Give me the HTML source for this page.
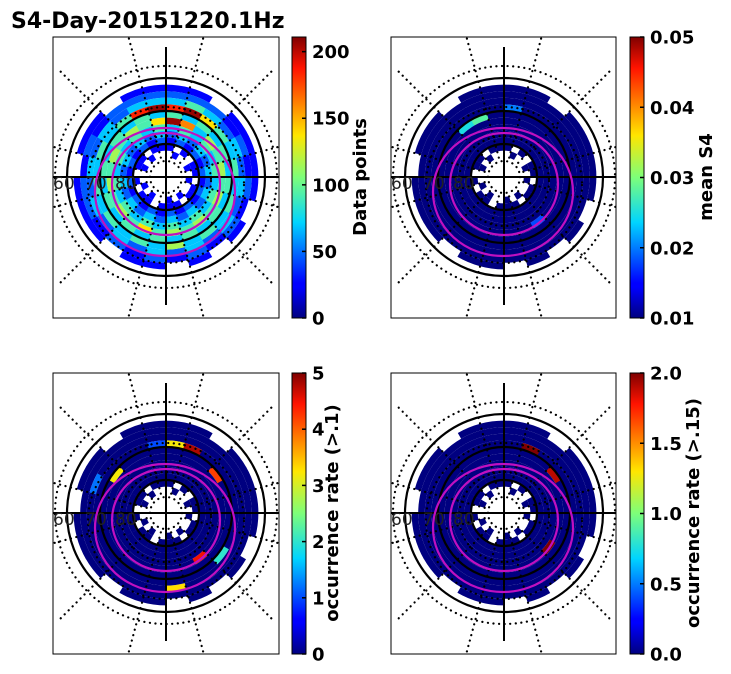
<!DOCTYPE html>
<html><head><meta charset="utf-8"><style>
body{margin:0;background:#fff}
svg{display:block;font-family:"DejaVu Sans","Liberation Sans",sans-serif}
</style></head><body>
<svg id="fig" width="731" height="674" viewBox="0 0 731 674" xmlns="http://www.w3.org/2000/svg">
<defs>
<linearGradient id="jet" x1="0" y1="1" x2="0" y2="0">
<stop offset="0" stop-color="#000080"/><stop offset="0.11" stop-color="#0000ff"/>
<stop offset="0.125" stop-color="#0000ff"/><stop offset="0.34" stop-color="#00d4ff"/>
<stop offset="0.5" stop-color="#7dff7a"/><stop offset="0.65" stop-color="#ffe600"/>
<stop offset="0.89" stop-color="#ff1300"/><stop offset="1" stop-color="#800000"/>
</linearGradient>
</defs>
<text x="11" y="28" font-size="22" font-weight="bold">S4-Day-20151220.1Hz</text>
</svg>
<script>
// Data: rings from lat 62 (outer) to 82 (inner), 2° each; 24 sectors of 15°, clockwise from top.
const ringLats = [62,64,66,68,70,72,74,76,78,80,82];
const countRows = [
"11.1111.1.1.11.111.11.11",
"222121212121212122121222",
"343232323232323232323233",
"896434343435343434343489",
"434343434343434343434343",
"973545454545464545454546",
"343434343434343434343434",
"232323232323232323232323",
"121212121212121212121212",
"1.1.11.11.111.11.1.11.11",
".1..1.1..1.1..1.1..1.1.."
];
const countScale = 23;
const s4Hits = [[4,21,0.025],[4,22,0.028],[3,0,0.02],[5,9,0.018]];
const occ1Hits = [[3,0,3.2],[3,1,4.8],[3,23,1],[4,20,3.2],[2,19,1.2],[4,3,4.2],[3,8,2],[2,11,3.3],[5,9,4.5]];
const occ2Hits = [[3,1,2],[5,8,2],[4,3,1.9]];
const ticks1 = [0,50,100,150,200];
const ticks2 = ["0.01","0.02","0.03","0.04","0.05"];
const ticks3 = [0,1,2,3,4,5];
const ticks4 = ["0.0","0.5","1.0","1.5","2.0"];

const NS="http://www.w3.org/2000/svg";
const svg=document.getElementById('fig');
function el(t,a,p){const e=document.createElementNS(NS,t);for(const k in a)e.setAttribute(k,a[k]);(p||svg).appendChild(e);return e;}
function jet(v){v=Math.max(0,Math.min(1,v));
 const st=[[0,0,0,128],[0.11,0,0,255],[0.125,0,0,255],[0.34,0,212,255],[0.5,125,255,122],[0.65,255,230,0],[0.89,255,19,0],[1,128,0,0]];
 for(let i=1;i<st.length;i++){if(v<=st[i][0]){const a=st[i-1],b=st[i],t=(v-a[0])/(b[0]-a[0]||1);
 return `rgb(${Math.round(a[1]+t*(b[1]-a[1]))},${Math.round(a[2]+t*(b[2]-a[2]))},${Math.round(a[3]+t*(b[3]-a[3]))})`;}}return 'rgb(128,0,0)';}
const rScale=lat=>(90-lat)*3.3;
function pt(cx,cy,r,a){const t=a*Math.PI/180;return [cx+r*Math.sin(t),cy-r*Math.cos(t)];}
function cellPath(cx,cy,r1,r2,a1,a2){const p1=pt(cx,cy,r2,a1),p2=pt(cx,cy,r2,a2),p3=pt(cx,cy,r1,a2),p4=pt(cx,cy,r1,a1);
 return `M${p1} A${r2},${r2} 0 0 1 ${p2} L${p3} A${r1},${r1} 0 0 0 ${p4}Z`;}

const panels=[
 {x:53,y:37,w:226,h:281,cx:166,cy:177,cb:292,min:0,max:211,ticks:ticks1,label:"Data points",lx:366,kind:"count",name:"data-points"},
 {x:391,y:37,w:225,h:281,cx:504,cy:177,cb:630,min:0.01,max:0.05,ticks:ticks2,label:"mean S4",lx:712,hits:s4Hits,name:"mean-s4"},
 {x:53,y:373,w:226,h:281,cx:166,cy:513,cb:292,min:0,max:5,ticks:ticks3,label:"occurrence rate (>.1)",lx:338,hits:occ1Hits,name:"occurrence-01"},
 {x:391,y:373,w:225,h:281,cx:504,cy:513,cb:630,min:0,max:2,ticks:ticks4,label:"occurrence rate (>.15)",lx:699,hits:occ2Hits,name:"occurrence-015"}
];
const dot={stroke:'#000','stroke-width':2.2,'stroke-dasharray':'0.1 5.5','stroke-linecap':'round',fill:'none'};
panels.forEach((P,pi)=>{
 const g=el('g',{});
 
 
 const cp=el('clipPath',{id:'cp'+pi},g);el('rect',{x:P.x,y:P.y,width:P.w,height:P.h},cp);
 const cells=el('g',{'clip-path':`url(#cp${pi})`},g);
 const norm=v=>(v-P.min)/(P.max-P.min);
 countRows.forEach((row,ri)=>{
  const lat=ringLats[ri];
  for(let s=0;s<24;s++){const ch=row[s];if(ch==='.')continue;
   let val;
   if(P.kind==='count')val=(+ch)*countScale;
   else{val=P.min;const h=P.hits.find(q=>q[0]===ri&&q[1]===s);if(h)val=h[2];}
   const c=el('path',{d:cellPath(P.cx,P.cy,rScale(lat+2),rScale(lat),s*15,(s+1)*15+0.3),fill:jet(norm(val))},cells);
   
   
  }
 });
 const ov=el('g',{'clip-path':`url(#cp${pi})`},g);
 for(let k=0;k<12;k++){const a=15+30*k;const p1=pt(P.cx,P.cy,20,a),p2=pt(P.cx,P.cy,150,a);
  el('line',Object.assign({x1:p1[0],y1:p1[1],x2:p2[0],y2:p2[1]},dot),ov);}
 el('circle',Object.assign({cx:P.cx,cy:P.cy,r:111},dot),ov);
 el('circle',Object.assign({cx:P.cx,cy:P.cy,r:16},dot),ov);
 el('circle',Object.assign({cx:P.cx,cy:P.cy+4,r:45},dot),ov);
 el('circle',Object.assign({cx:P.cx,cy:P.cy+8,r:78},dot),ov);
 [60,70,80].forEach(l=>{const c=el('circle',{cx:P.cx,cy:P.cy,r:rScale(l),fill:'none',stroke:'#000','stroke-width':2.2},ov);
  
  });
 el('line',{x1:P.x,y1:P.cy,x2:P.x+P.w,y2:P.cy,stroke:'#000','stroke-width':2},ov);
 el('line',{x1:P.cx,y1:P.y+10,x2:P.cx,y2:P.y+268,stroke:'#000','stroke-width':2},ov);
 const o1=el('ellipse',{cx:P.cx-1,cy:P.cy+15,rx:70,ry:64,fill:'none',stroke:'#c010c0','stroke-width':2.2},ov);
 
 
 const o2=el('ellipse',{cx:P.cx,cy:P.cy+7,rx:54,ry:51,fill:'none',stroke:'#c010c0','stroke-width':2.2},ov);
 
 
 [["60",-113],["70",-81],["80",-51]].forEach(([t,dx])=>{const tx=el('text',{x:P.cx+dx,y:P.cy+12,'font-size':17,fill:'#222'},ov);tx.textContent=t;
  
  });
 el('rect',{x:P.x,y:P.y,width:P.w,height:P.h,fill:'none',stroke:'#000','stroke-width':1},g);
 const cb=el('rect',{x:P.cb,y:P.y,width:14,height:281,fill:'url(#jet)',stroke:'#000','stroke-width':1},g);
 
 
 P.ticks.forEach(t=>{const y=P.y+281-norm(parseFloat(t))*281;
  el('line',{x1:P.cb+10,y1:y,x2:P.cb+14,y2:y,stroke:'#000','stroke-width':1.5},g);
  const tx=el('text',{x:P.cb+20,y:y+6.5,'font-size':18,'font-weight':'bold'},g);tx.textContent=t;
  
  });
 const lb=el('text',{x:P.lx,y:P.y+140,'font-size':18,'font-weight':'bold','text-anchor':'middle',transform:`rotate(-90 ${P.lx} ${P.y+140})`},g);
 lb.textContent=P.label;
 
 
});
</script>
</body></html>
